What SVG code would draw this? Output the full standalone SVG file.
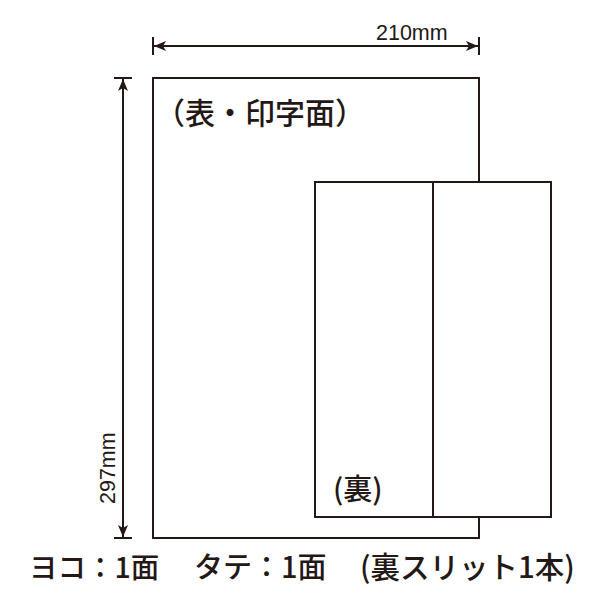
<svg xmlns="http://www.w3.org/2000/svg" width="600" height="600" viewBox="0 0 600 600">
<defs>
<style>
.ln{stroke:#231815;stroke-width:2;fill:none}
.sheet{stroke:#231815;stroke-width:2;fill:#fff}
.dim{font-family:"Liberation Sans",Arial,sans-serif;font-size:21.5px;fill:#231815}
.jp{font-family:"Noto Sans CJK JP","Noto Sans",sans-serif;fill:#231815;font-weight:500}
</style>
<marker id="ah" viewBox="0 0 12 10" refX="12" refY="5" markerWidth="12" markerHeight="10" markerUnits="userSpaceOnUse" orient="auto-start-reverse">
<path d="M0,0 L12,5 L0,10 L3,5 Z" fill="#231815"/>
</marker>
</defs>
<rect width="600" height="600" fill="#fff"/>
<g id="front">
<rect class="sheet" x="153" y="78" width="326" height="460"/>
<text class="jp" x="155" y="123.5" font-size="30">（表・印字面）</text>
</g>
<g id="back">
<rect class="sheet" x="315" y="182" width="236" height="335"/>
<line class="ln" x1="433" y1="182" x2="433" y2="517"/>
<text class="jp" x="333" y="500" font-size="29">(裏)</text>
</g>
<g id="connectors">
<line class="ln" x1="154" y1="46" x2="478" y2="46" marker-start="url(#ah)" marker-end="url(#ah)"/>
<line class="ln" x1="153" y1="37" x2="153" y2="55"/>
<line class="ln" x1="479" y1="37" x2="479" y2="55"/>
<line class="ln" x1="123" y1="79" x2="123" y2="537" marker-start="url(#ah)" marker-end="url(#ah)"/>
<line class="ln" x1="114" y1="78" x2="132" y2="78"/>
<line class="ln" x1="114" y1="538" x2="132" y2="538"/>
</g>
<text class="dim" x="376" y="40">210mm</text>
<text class="dim" transform="translate(115,504) rotate(-90)">297mm</text>
<g id="caption" class="jp">
<text x="29" y="578" font-size="28.5">ヨコ：1面</text>
<text x="194" y="578" font-size="29">タテ：1面</text>
<text x="360" y="578" font-size="29.5">(裏スリット1本)</text>
</g>
</svg>
